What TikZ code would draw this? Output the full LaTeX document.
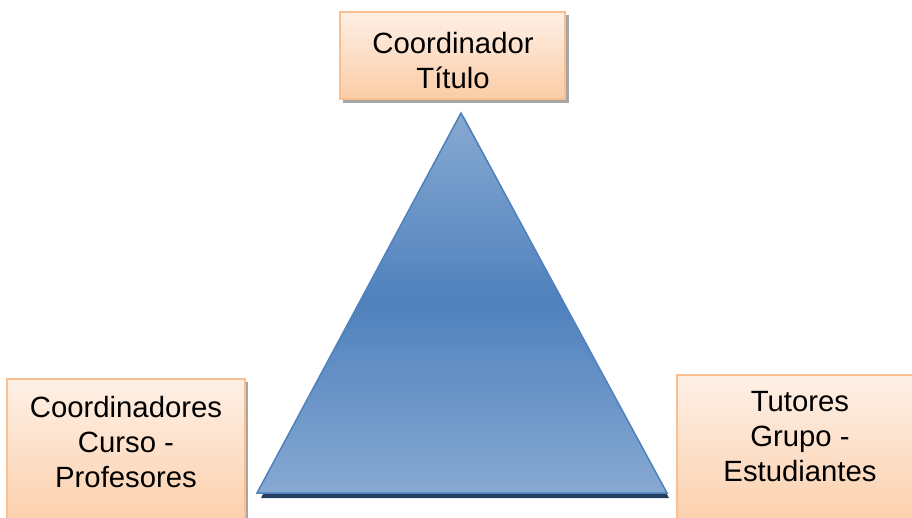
\documentclass[tikz,border=0pt]{standalone}
\usepackage{fontspec}
\setmainfont{Liberation Sans}
\definecolor{boxline}{HTML}{F9BF8F}
\definecolor{boxtop}{HTML}{FEF0E6}
\definecolor{boxbot}{HTML}{FBCCA6}
\definecolor{triedge}{HTML}{4F81BD}
\definecolor{trilight}{HTML}{95B3D7}
\definecolor{trimid}{HTML}{4F81BD}
\definecolor{trishadow}{HTML}{243F60}
\pgfdeclareverticalshading{trishade}{100bp}{color(0bp)=(trilight); color(25bp)=(trilight!80!trimid); color(50bp)=(trimid); color(75bp)=(trilight!80!trimid); color(100bp)=(trilight)}
\tikzset{
  pbox/.style={draw=boxline, line width=1.2pt, top color=boxtop, bottom color=boxbot},
  pshadow/.style={fill=black!35},
  ptext/.style={font=\fontsize{29.3}{35}\selectfont, align=center, anchor=north, inner sep=0pt},
}
\begin{document}
\begin{tikzpicture}[x=1pt,y=1pt]
\useasboundingbox (0,0) rectangle (912,-517);
\clip (0,0) rectangle (912,-517);
% triangle
\coordinate (apexS) at (464,-117);
\fill[trishadow] (261,-498) -- (apexS) -- (669,-498) -- cycle;
\path[draw=triedge, line width=1.5pt, shading=trishade]
  (257,-493) coordinate (bl) -- (461,-113) coordinate (apex) -- (667,-493) coordinate (br) -- cycle;
% top box
\fill[pshadow] (343,-15) rectangle (569,-103);
\node[pbox, minimum width=225pt, minimum height=87pt, inner sep=0pt] (topbox) at (452.5,-55.5) {};
\node[ptext] (toptext) at (453,-32) {Coordinador\\Título};
% left box
\fill[pshadow] (10,-382) rectangle (248,-540);
\node[pbox, minimum width=238pt, minimum height=160pt, inner sep=0pt] (leftbox) at (126,-459) {};
\node[ptext] (lefttext) at (126,-396) {Coordinadores\\Curso -\\Profesores};
% right box
\node[pbox, minimum width=246pt, minimum height=165pt, inner sep=0pt] (rightbox) at (800,-457.5) {};
\node[ptext] (righttext) at (800,-391) {Tutores\\Grupo -\\Estudiantes};
\end{tikzpicture}
\end{document}
